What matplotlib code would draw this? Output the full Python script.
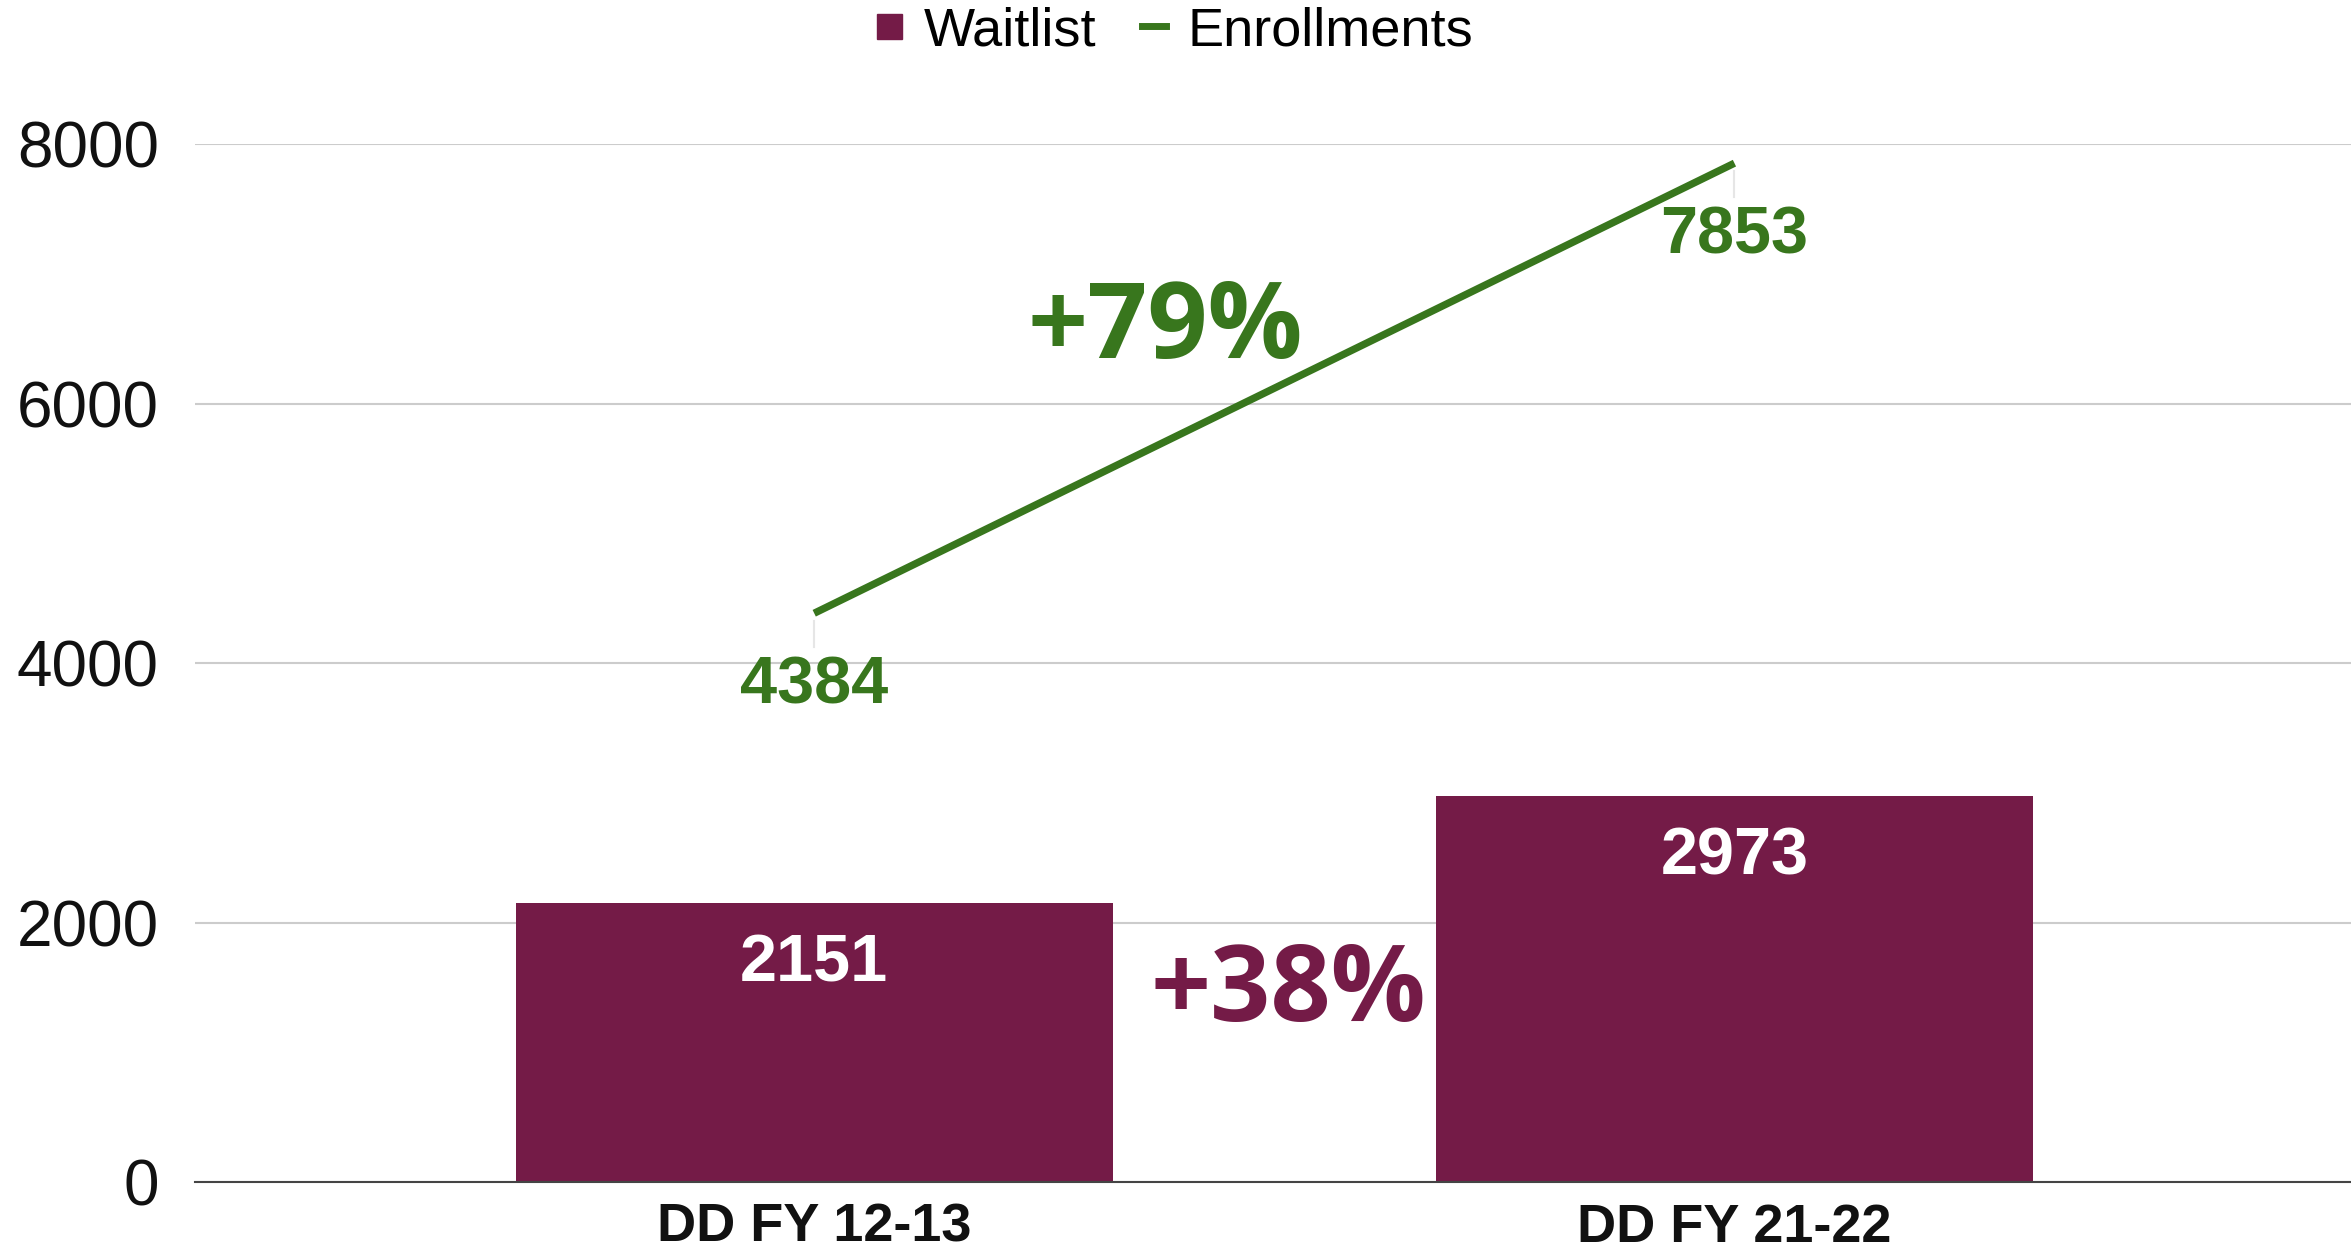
import matplotlib
matplotlib.use("Agg")
import matplotlib.pyplot as plt
from matplotlib.lines import Line2D

categories = ["DD FY 12-13", "DD FY 21-22"]
waitlist = [2151, 2973]
enrollments = [4384, 7853]
yticks = [0, 2000, 4000, 6000, 8000]

maroon = "#741b47"
green = "#38761d"

plt.rcParams["font.family"] = ["Liberation Sans", "DejaVu Sans"]

fig = plt.figure(figsize=(23.51, 12.52), dpi=100)
ax = fig.add_axes([0.0829, 0.0559, 0.9171, 0.829])

x = list(range(len(categories)))
ax.bar(x, waitlist, width=0.649, color=maroon, zorder=2)
ax.plot(x, enrollments, color=green, lw=5.3, zorder=3, solid_capstyle="butt")

# faint leader lines under the line points
for xi, v in zip(x, enrollments):
    ax.plot([xi, xi], [v - 60, v - 260], color="#e6e6e6", lw=1.5, zorder=1)

for xi, v in zip(x, waitlist):
    ax.annotate(str(v), (xi, v), xytext=(0, -44), textcoords="offset points",
                ha="center", va="center", color="white", fontsize=48,
                fontweight="bold", zorder=4)

for xi, v in zip(x, enrollments):
    ax.annotate(str(v), (xi, v), xytext=(0, -53), textcoords="offset points",
                ha="center", va="center", color=green, fontsize=48,
                fontweight="bold", zorder=4)

ax.text(0.381, 6566, "+79%", ha="center", va="center", color=green,
        fontsize=76, fontweight="bold", family=["Open Sans", "DejaVu Sans"])
ax.text(0.515, 1457, "+38%", ha="center", va="center", color=maroon,
        fontsize=76, fontweight="bold", family=["Open Sans", "DejaVu Sans"])

ax.set_xlim(-0.673, 1.670)
ax.set_ylim(0, 8000)
ax.set_yticks(yticks)
ax.set_yticklabels([str(t) for t in yticks], fontsize=46, color="#111111")
ax.set_xticks(x)
ax.set_xticklabels(categories, fontsize=39, fontweight="bold", color="#111111")
ax.tick_params(axis="y", length=0, pad=26)
ax.tick_params(axis="x", length=0, pad=15)
ax.grid(axis="y", color="#cccccc", lw=1.5, zorder=0)
ax.set_axisbelow(True)
for s in ["top", "right", "left"]:
    ax.spines[s].set_visible(False)
ax.spines["bottom"].set_color("#444444")
ax.spines["bottom"].set_linewidth(1.5)
ax.spines["bottom"].set_zorder(5)

handles = [
    Line2D([], [], marker="s", ls="none", color=maroon, markersize=18),
    Line2D([], [], color=green, lw=5),
]
fig.legend(handles, ["Waitlist", "Enrollments"], loc="center",
           bbox_to_anchor=(0.5, 0.975), ncol=2, frameon=False, fontsize=39,
           handlelength=0.45, handletextpad=0.4, columnspacing=0.85)

fig.savefig("out.png", dpi=100, facecolor="white")
